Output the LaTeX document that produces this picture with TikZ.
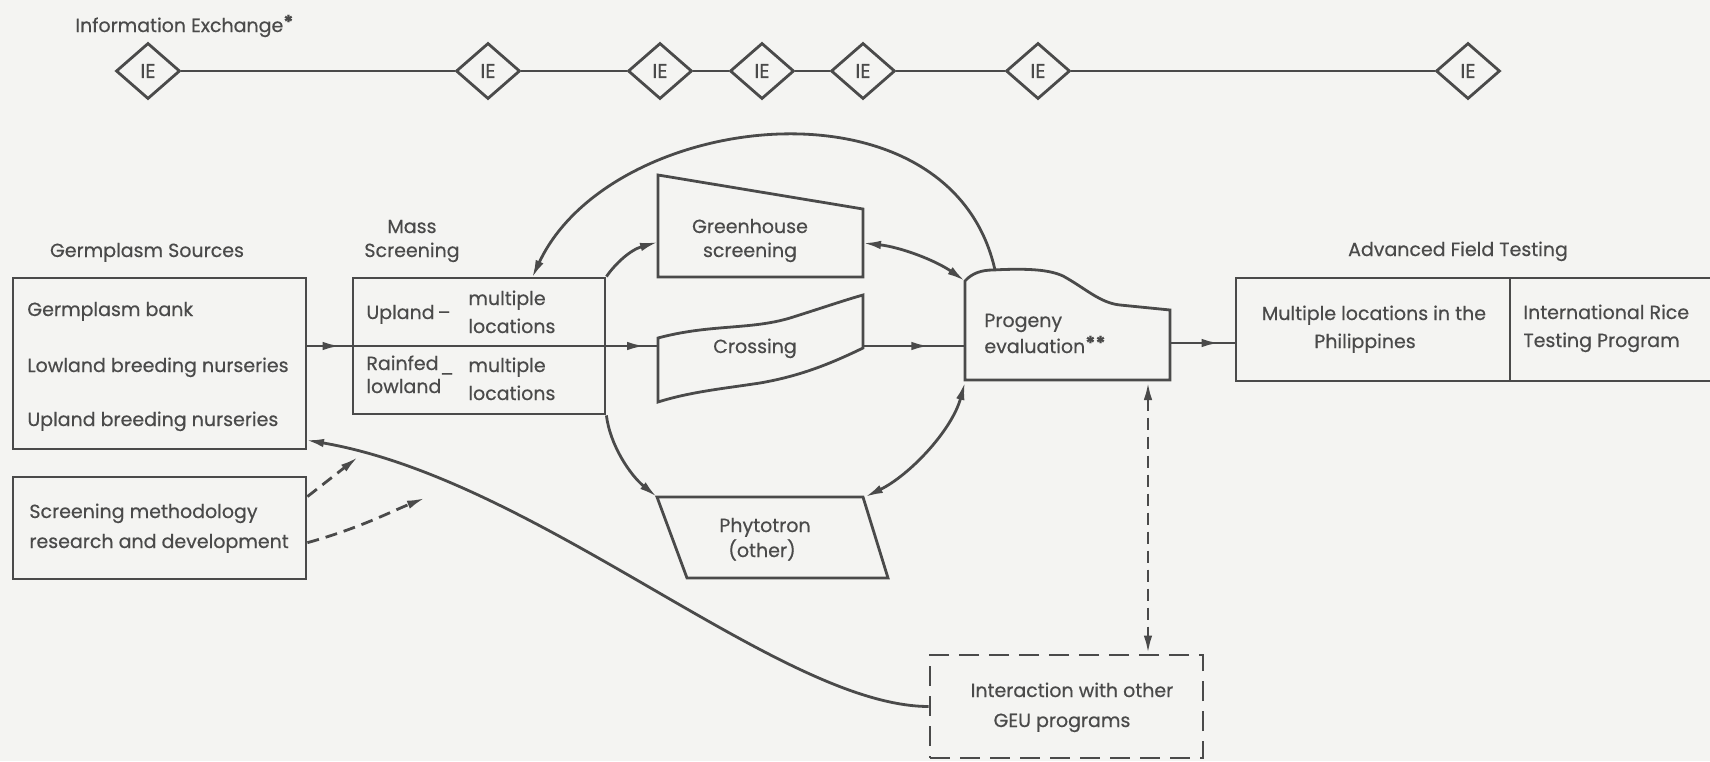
\documentclass[tikz,border=0pt]{standalone}
\usepackage{fontspec}
\setmainfont{Poppins}[FakeBold=0.5]
\usetikzlibrary{arrows.meta,decorations.markings,shapes.geometric,calc}
\definecolor{ink}{HTML}{4A4A4A}
\definecolor{paper}{HTML}{F4F4F2}
\tikzset{
  >={Latex[length=18pt,width=8.5pt]},
  every path/.style={line width=2.8pt},
  lbl/.style={inner sep=0pt, anchor=base west, text=ink},
  lblc/.style={inner sep=0pt, anchor=base, text=ink},
  boxn/.style={draw=ink, rectangle, inner sep=0pt},
  iebox/.style={draw=ink, diamond, inner sep=0pt, minimum width=64pt, minimum height=56pt, font=\fontsize{20}{22}\selectfont, text=ink},
  midarrow/.style={postaction={decorate}, decoration={markings, mark=at position #1 with {\arrow{>}}}},
  dashline/.style={dash pattern=on 12pt off 7pt},
  geudash/.style={dash pattern=on 20pt off 10pt},
}
\begin{document}
\begin{tikzpicture}[x=1pt,y=-1pt, font=\fontsize{19}{28}\selectfont, draw=ink]
\fill[paper] (0,0) rectangle (1710,761);
\useasboundingbox (0,0) rectangle (1710,761);

% Information exchange
\node[lbl] (iet) at (74,32) {Information Exchange\raisebox{3pt}{\bfseries *}};
\node[iebox] (ie1) at (148,71) {IE};
\node[iebox] (ie2) at (488,71) {IE};
\node[iebox] (ie3) at (660,71) {IE};
\node[iebox] (ie4) at (762,71) {IE};
\node[iebox] (ie5) at (863,71) {IE};
\node[iebox] (ie6) at (1038,71) {IE};
\node[iebox] (ie7) at (1468,71) {IE};
\draw[ink] (ie1) -- (ie2) -- (ie3) -- (ie4) -- (ie5) -- (ie6) -- (ie7);

% Germplasm sources
\node[lblc] (gsl) at (147,257) {Germplasm Sources};
\node[boxn, minimum width=293pt, minimum height=171pt] (gs) at (159.5,363.5) {};
\node[lbl] (gs1) at (26,316) {Germplasm bank};
\node[lbl] (gs2) at (26,372) {Lowland breeding nurseries};
\node[lbl] (gs3) at (26,426) {Upland breeding nurseries};

% Screening methodology
\node[boxn, minimum width=293pt, minimum height=102pt] (sm) at (159.5,528) {};
\node[lbl] (sm1) at (28,518) {Screening methodology};
\node[lbl] (sm2) at (28,548) {research and development};

% Mass screening
\node[lblc] (msl1) at (412,233) {Mass};
\node[lblc] (msl2) at (412,257) {Screening};
\node[boxn, minimum width=252pt, minimum height=136pt] (ms) at (479,346) {};
\node[lbl] (ms1) at (365,319) {Upland\,–};
\node[lbl] (ms2) at (467,305) {multiple};
\node[lbl] (ms3) at (467,333) {locations};
\node[lbl] (ms4) at (365,370) {Rainfed};
\node[lbl] (ms5) at (365,393) {lowland};
\node[inner sep=0pt, text=ink] (ms6) at (447,377) {–};
\node[lbl] (ms7) at (467,372) {multiple};
\node[lbl] (ms8) at (467,400) {locations};

% Greenhouse screening
\draw[ink] (658,175) -- (863,209) -- (863,277) -- (658,277) -- cycle;
\node[lblc] (gh1) at (750,233) {Greenhouse};
\node[lblc] (gh2) at (750,257) {screening};
\coordinate (ghw) at (658,242);
\coordinate (ghe) at (863,243);

% Crossing
\draw[ink] (658,338) .. controls (710,324) and (750,330) .. (790,318)
  .. controls (825,307) and (845,300) .. (863,295) -- (863,348)
  .. controls (830,364) and (800,376) .. (760,383)
  .. controls (720,389) and (690,392) .. (658,402) -- cycle;
\node[lblc] (cr) at (755,353) {Crossing};
\coordinate (crw) at (658,346);
\coordinate (cre) at (863,346);

% Phytotron
\draw[ink] (657,497) -- (863,497) -- (888,578) -- (687,578) -- cycle;
\node[lblc] (ph1) at (765,532) {Phytotron};
\node[lblc] (ph2) at (762,557) {(other)};
\coordinate (phnw) at (657,497);
\coordinate (phne) at (865,497);

% Progeny evaluation
\draw[ink] (965,380) -- (965,281) .. controls (972,273) and (982,270) .. (993,270)
  .. controls (1030,268) and (1050,270) .. (1063,276)
  .. controls (1085,288) and (1100,303) .. (1120,305) -- (1170,310) -- (1170,380) -- cycle;
\node[lbl] (pg1) at (983,327) {Progeny};
\node[lbl] (pg2) at (983,353) {evaluation\raisebox{3pt}{\bfseries **}};
\coordinate (pgnw) at (965,281);
\coordinate (pgw) at (965,346);
\coordinate (pgsw) at (965,382);
\coordinate (pgtop) at (995,270);
\coordinate (pge) at (1170,343);
\coordinate (pgs) at (1148,382);

% Advanced field testing
\node[lblc] (aftl) at (1458,256) {Advanced Field Testing};
\draw[ink] (1714,278) -- (1236,278) -- (1236,381) -- (1714,381);
\draw[ink] (1510,278) -- (1510,381);
\coordinate (aftw) at (1236,343);
\node[lblc] (af1) at (1374,320) {Multiple locations in the};
\node[lblc] (af2) at (1365,348) {Philippines};
\node[lbl] (af3) at (1522,319) {International Rice};
\node[lbl] (af4) at (1522,347) {Testing Program};

% GEU interaction
\node[draw=ink, geudash, rectangle, inner sep=0pt, minimum width=273pt, minimum height=103pt] (geu) at (1066.5,706.5) {};
\node[lblc] (geu1) at (1072,697) {Interaction with other};
\node[lblc] (geu2) at (1062,727) {GEU programs};

% connectors
\coordinate (msTop) at (532,278);
\coordinate (gsIn) at (306,440);
\draw[ink, midarrow=0.75] (gs.east |- ms.west) -- (ms.west);
\draw[ink] (ms.west) -- (ms.east);
\draw[ink, midarrow=0.75] (ms.east) -- (crw);
\draw[ink, midarrow=0.65] (cre) -- (pgw);
\draw[ink, midarrow=0.75] (pge) -- (aftw);
\draw[ink, ->] (ms.north east) .. controls (615,264) and (630,250) .. (ghw);
\draw[ink, ->] (ms.south east) .. controls (610,445) and (630,475) .. (phnw);
\draw[ink, ->] (pgtop) .. controls (950,70) and (610,110) .. (msTop);
\draw[ink, <->] (ghe) .. controls (900,247) and (935,260) .. (pgnw);
\draw[ink, <->] (pgsw) .. controls (952,430) and (910,475) .. (phne);
\draw[ink, <->, dashline] (pgs) -- (geu.north -| pgs);
\draw[ink, ->] (geu.west) .. controls (780,706) and (540,480) .. (gsIn);

\coordinate (dA) at (358,457);
\coordinate (dB) at (425,498);
\draw[ink, ->, dashline] ($(sm.north east)!0.2!(sm.south east)$) -- (dA);
\draw[ink, ->, dashline] ($(sm.north east)!0.64!(sm.south east)$) .. controls (360,528) and (390,512) .. (dB);
\end{tikzpicture}
\end{document}
